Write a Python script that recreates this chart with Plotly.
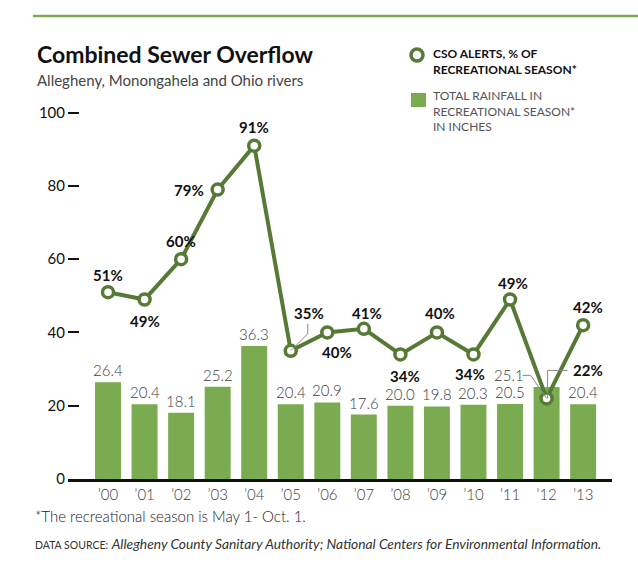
import plotly.graph_objects as go

# ---- data ----
years = ["’00", "’01", "’02", "’03", "’04", "’05", "’06", "’07", "’08", "’09", "’10", "’11", "’12", "’13"]
rainfall = [26.4, 20.4, 18.1, 25.2, 36.3, 20.4, 20.9, 17.6, 20.0, 19.8, 20.3, 20.5, 25.1, 20.4]
cso_alerts = [51, 49, 60, 79, 91, 35, 40, 41, 34, 40, 34, 49, 22, 42]
y_ticks = [0, 20, 40, 60, 80, 100]

# ---- styles / positions ----
W, H = 638, 569
PL, PR, PT, PB = 68, 612, 109, 479  # plot area in pixels
BAR_COLOR = "#7aab50"
LINE_COLOR = "#567a36"
FONT = "Lato"
LABEL_GRAY = "#3c3c3c"

# pixel offsets of percent labels relative to their points
pct_offsets = [(0, 17), (0, -21), (0, 18), (-29, 0), (0, 19), (18, 38), (10, -20),
               (3, 16), (5, -22), (3, 19), (-3, -20), (3, 17), (41, 28), (5, 18)]

x_idx = list(range(len(years)))


def px(x):
    return (x - PL) / (PR - PL)


def py(y):
    return (PB - y) / (PB - PT)


fig = go.Figure()
fig.add_trace(go.Bar(x=x_idx, y=rainfall, marker=dict(color=BAR_COLOR, line=dict(width=0)),
                     hoverinfo="skip"))
fig.add_trace(go.Scatter(x=x_idx, y=cso_alerts, mode="lines+markers",
                         line=dict(color=LINE_COLOR, width=4),
                         marker=dict(size=11, color="white", line=dict(color=LINE_COLOR, width=3.5)),
                         cliponaxis=False, hoverinfo="skip"))

annotations = []
# bar value labels
for i, v in enumerate(rainfall):
    if i == 12:
        annotations.append(dict(x=i, y=cso_alerts[i], xref="x", yref="y", text=f"{v:.1f}",
                                showarrow=False, xshift=-38, yshift=23,
                                font=dict(family=FONT, size=15, color=LABEL_GRAY, weight=300)))
    else:
        annotations.append(dict(x=i, y=v, xref="x", yref="y", text=f"{v:.1f}", showarrow=False,
                                yanchor="bottom", yshift=1,
                                font=dict(family=FONT, size=15, color=LABEL_GRAY, weight=300)))
# percent labels
for i, v in enumerate(cso_alerts):
    dx, dy = pct_offsets[i]
    annotations.append(dict(x=i, y=v, xref="x", yref="y", text=f"<b>{v}%</b>", showarrow=False,
                            xshift=dx, yshift=dy,
                            font=dict(family=FONT, size=15, color="#111")))

# titles
annotations += [
    dict(x=px(35), y=py(54), xref="paper", yref="paper", xanchor="left", yanchor="middle",
         text="<b>Combined Sewer Overflow</b>", showarrow=False,
         font=dict(family=FONT, size=23, color="#111")),
    dict(x=px(35), y=py(80), xref="paper", yref="paper", xanchor="left", yanchor="middle",
         text="Allegheny, Monongahela and Ohio rivers", showarrow=False,
         font=dict(family=FONT, size=15, color="#444")),
    dict(x=px(431), y=py(61), xref="paper", yref="paper", xanchor="left", yanchor="middle",
         text="<b>CSO ALERTS, % OF<br>RECREATIONAL SEASON*</b>", showarrow=False, align="left",
         font=dict(family=FONT, size=12, color="#111")),
    dict(x=px(431), y=py(111), xref="paper", yref="paper", xanchor="left", yanchor="middle",
         text="TOTAL RAINFALL IN<br>RECREATIONAL SEASON*<br>IN INCHES", showarrow=False,
         align="left", font=dict(family=FONT, size=12, color="#555")),
    dict(x=px(33), y=py(516), xref="paper", yref="paper", xanchor="left", yanchor="middle",
         text="*The recreational season is May 1- Oct. 1.", showarrow=False,
         font=dict(family=FONT, size=15, color="#222", weight=300)),
    dict(x=px(33), y=py(543), xref="paper", yref="paper", xanchor="left", yanchor="middle",
         text="<span style='font-size:10.5px'>DATA SOURCE:</span> <i>Allegheny County Sanitary Authority; "
              "National Centers for Environmental Information.</i>", showarrow=False,
         font=dict(family=FONT, size=13.8, color="#333")),
]

shapes = [
    # top rule
    dict(type="line", xref="paper", yref="paper", x0=px(33), x1=px(W), y0=py(16), y1=py(16),
         line=dict(color=BAR_COLOR, width=2.5)),
    # legend circle
    dict(type="circle", xref="paper", yref="paper", x0=px(411), x1=px(423), y0=py(49), y1=py(61),
         fillcolor="white", line=dict(color=LINE_COLOR, width=3.5)),
    # legend square
    dict(type="rect", xref="paper", yref="paper", x0=px(411), x1=px(426), y0=py(93), y1=py(107),
         fillcolor=BAR_COLOR, line=dict(width=0)),
    # leader for '05 label
    dict(type="path", xref="x", yref="y", xsizemode="pixel", ysizemode="pixel",
         xanchor=5, yanchor=cso_alerts[5], path="M 0 0 L 17 17 L 17 27",
         line=dict(color="#888", width=1)),
    # leader for '12 percent label
    dict(type="path", xref="x", yref="y", xsizemode="pixel", ysizemode="pixel",
         xanchor=12, yanchor=cso_alerts[12], path="M 1 0 L 1 28 L 21 28",
         line=dict(color="#888", width=1)),
    # leader for '12 rainfall label
    dict(type="path", xref="x", yref="y", xsizemode="pixel", ysizemode="pixel",
         xanchor=12, yanchor=cso_alerts[12], path="M 0 0 L -16 23 L -24 23",
         line=dict(color="#888", width=1)),
]

fig.update_layout(
    width=W, height=H,
    margin=dict(l=PL, r=W - PR, t=PT, b=H - PB, pad=0),
    paper_bgcolor="white", plot_bgcolor="white",
    showlegend=False, bargap=0.29,
    annotations=annotations, shapes=shapes,
    font=dict(family=FONT),
    xaxis=dict(range=[-1.095, 13.79], tickvals=x_idx, ticktext=years, showgrid=False,
               zeroline=False, showline=True, linecolor="#111", linewidth=3,
               ticks="", tickfont=dict(family=FONT, size=15, color="#3c3c3c", weight=300),
               fixedrange=True),
    yaxis=dict(range=[0, 101], tickvals=y_ticks, showgrid=False, zeroline=False,
               showline=False, ticks="inside", ticklen=11, tickwidth=1.5, tickcolor="#111",
               tickfont=dict(family=FONT, size=15, color="#111"), ticklabelstandoff=2,
               fixedrange=True),
)

fig.write_html("out.html", config={"displayModeBar": False},
               post_script="document.body.style.margin='0';document.body.style.overflow='hidden';")
